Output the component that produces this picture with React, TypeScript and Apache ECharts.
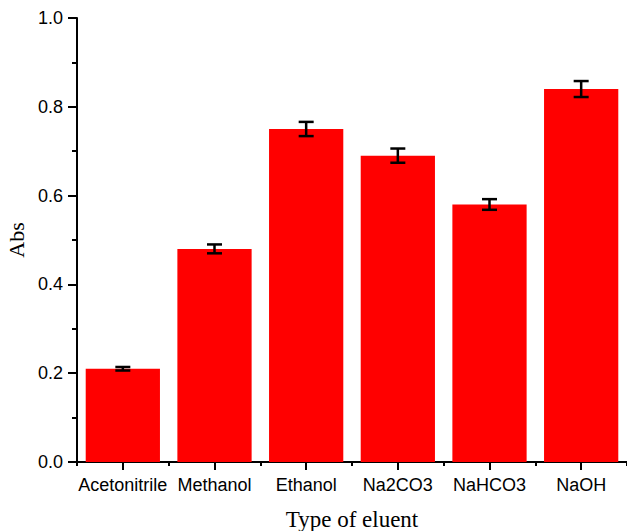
import React, { useEffect, useRef } from "react";
import * as echarts from "echarts";

const categories = ["Acetonitrile", "Methanol", "Ethanol", "Na2CO3", "NaHCO3", "NaOH"];
const absValues = [0.21, 0.48, 0.75, 0.69, 0.58, 0.84];
const errValues = [0.004, 0.01, 0.016, 0.016, 0.012, 0.018];

export default function App() {
  const ref = useRef<HTMLDivElement>(null);
  useEffect(() => {
    if (!ref.current) return;
    const chart = echarts.init(ref.current, null, { renderer: "svg" });
    const errData = categories.map((c, i) => [i, absValues[i] - errValues[i], absValues[i] + errValues[i]]);
    const sans = "'Liberation Sans', Arial, sans-serif";
    const serif = "'Liberation Serif', 'Times New Roman', serif";
    chart.setOption({
      animation: false,
      grid: { left: 77, right: 0, top: 18, bottom: 69, containLabel: false, outerBoundsMode: "none" },
      xAxis: [
        {
          type: "category",
          data: categories,
          name: "Type of eluent",
          nameLocation: "middle",
          nameGap: 57,
          nameTextStyle: { fontFamily: serif, fontSize: 23, color: "#000", verticalAlign: "middle" },
          axisLine: { show: true, lineStyle: { color: "#000", width: 2 } },
          axisTick: { show: true, alignWithLabel: true, length: 8, lineStyle: { color: "#000", width: 2 } },
          axisLabel: { fontFamily: sans, fontSize: 18, color: "#000", margin: 14, interval: 0 },
          splitLine: { show: false },
        },
        {
          type: "category",
          data: categories,
          position: "bottom",
          axisLine: { show: false },
          axisTick: { show: true, alignWithLabel: false, length: 4, lineStyle: { color: "#000", width: 2 } },
          axisLabel: { show: false },
          splitLine: { show: false },
        },
      ],
      yAxis: {
        type: "value",
        min: 0,
        max: 1,
        interval: 0.2,
        name: "Abs",
        nameLocation: "middle",
        nameGap: 61,
        nameTextStyle: { fontFamily: serif, fontSize: 22, color: "#000", verticalAlign: "middle" },
        axisLine: { show: true, lineStyle: { color: "#000", width: 2 } },
        axisTick: { show: true, length: 9, lineStyle: { color: "#000", width: 2 } },
        minorTick: { show: true, splitNumber: 2, length: 5, lineStyle: { color: "#000", width: 2 } },
        axisLabel: {
          fontFamily: sans,
          fontSize: 18,
          color: "#000",
          margin: 14,
          formatter: (v: number) => v.toFixed(1),
        },
        splitLine: { show: false },
      },
      series: [
        {
          type: "bar",
          data: absValues,
          xAxisIndex: 0,
          barCategoryGap: "19%",
          itemStyle: { color: "#ff0000" },
        },
        {
          type: "custom",
          xAxisIndex: 0,
          data: errData,
          encode: { x: 0, y: [1, 2] },
          z: 10,
          renderItem: (params: any, api: any) => {
            const x = api.value(0);
            const lo = api.coord([x, api.value(1)]);
            const hi = api.coord([x, api.value(2)]);
            const hw = 7.5;
            const style = { stroke: "#000", lineWidth: 2.5 };
            return {
              type: "group",
              children: [
                { type: "line", shape: { x1: lo[0], y1: lo[1], x2: hi[0], y2: hi[1] }, style },
                { type: "line", shape: { x1: lo[0] - hw, y1: lo[1], x2: lo[0] + hw, y2: lo[1] }, style },
                { type: "line", shape: { x1: hi[0] - hw, y1: hi[1], x2: hi[0] + hw, y2: hi[1] }, style },
              ],
            };
          },
        },
      ],
    });
    return () => chart.dispose();
  }, []);
  return (
    <div
      ref={ref}
      style={{ position: "fixed", left: 0, top: 0, width: 627, height: 531, background: "#fff" }}
    />
  );
}
